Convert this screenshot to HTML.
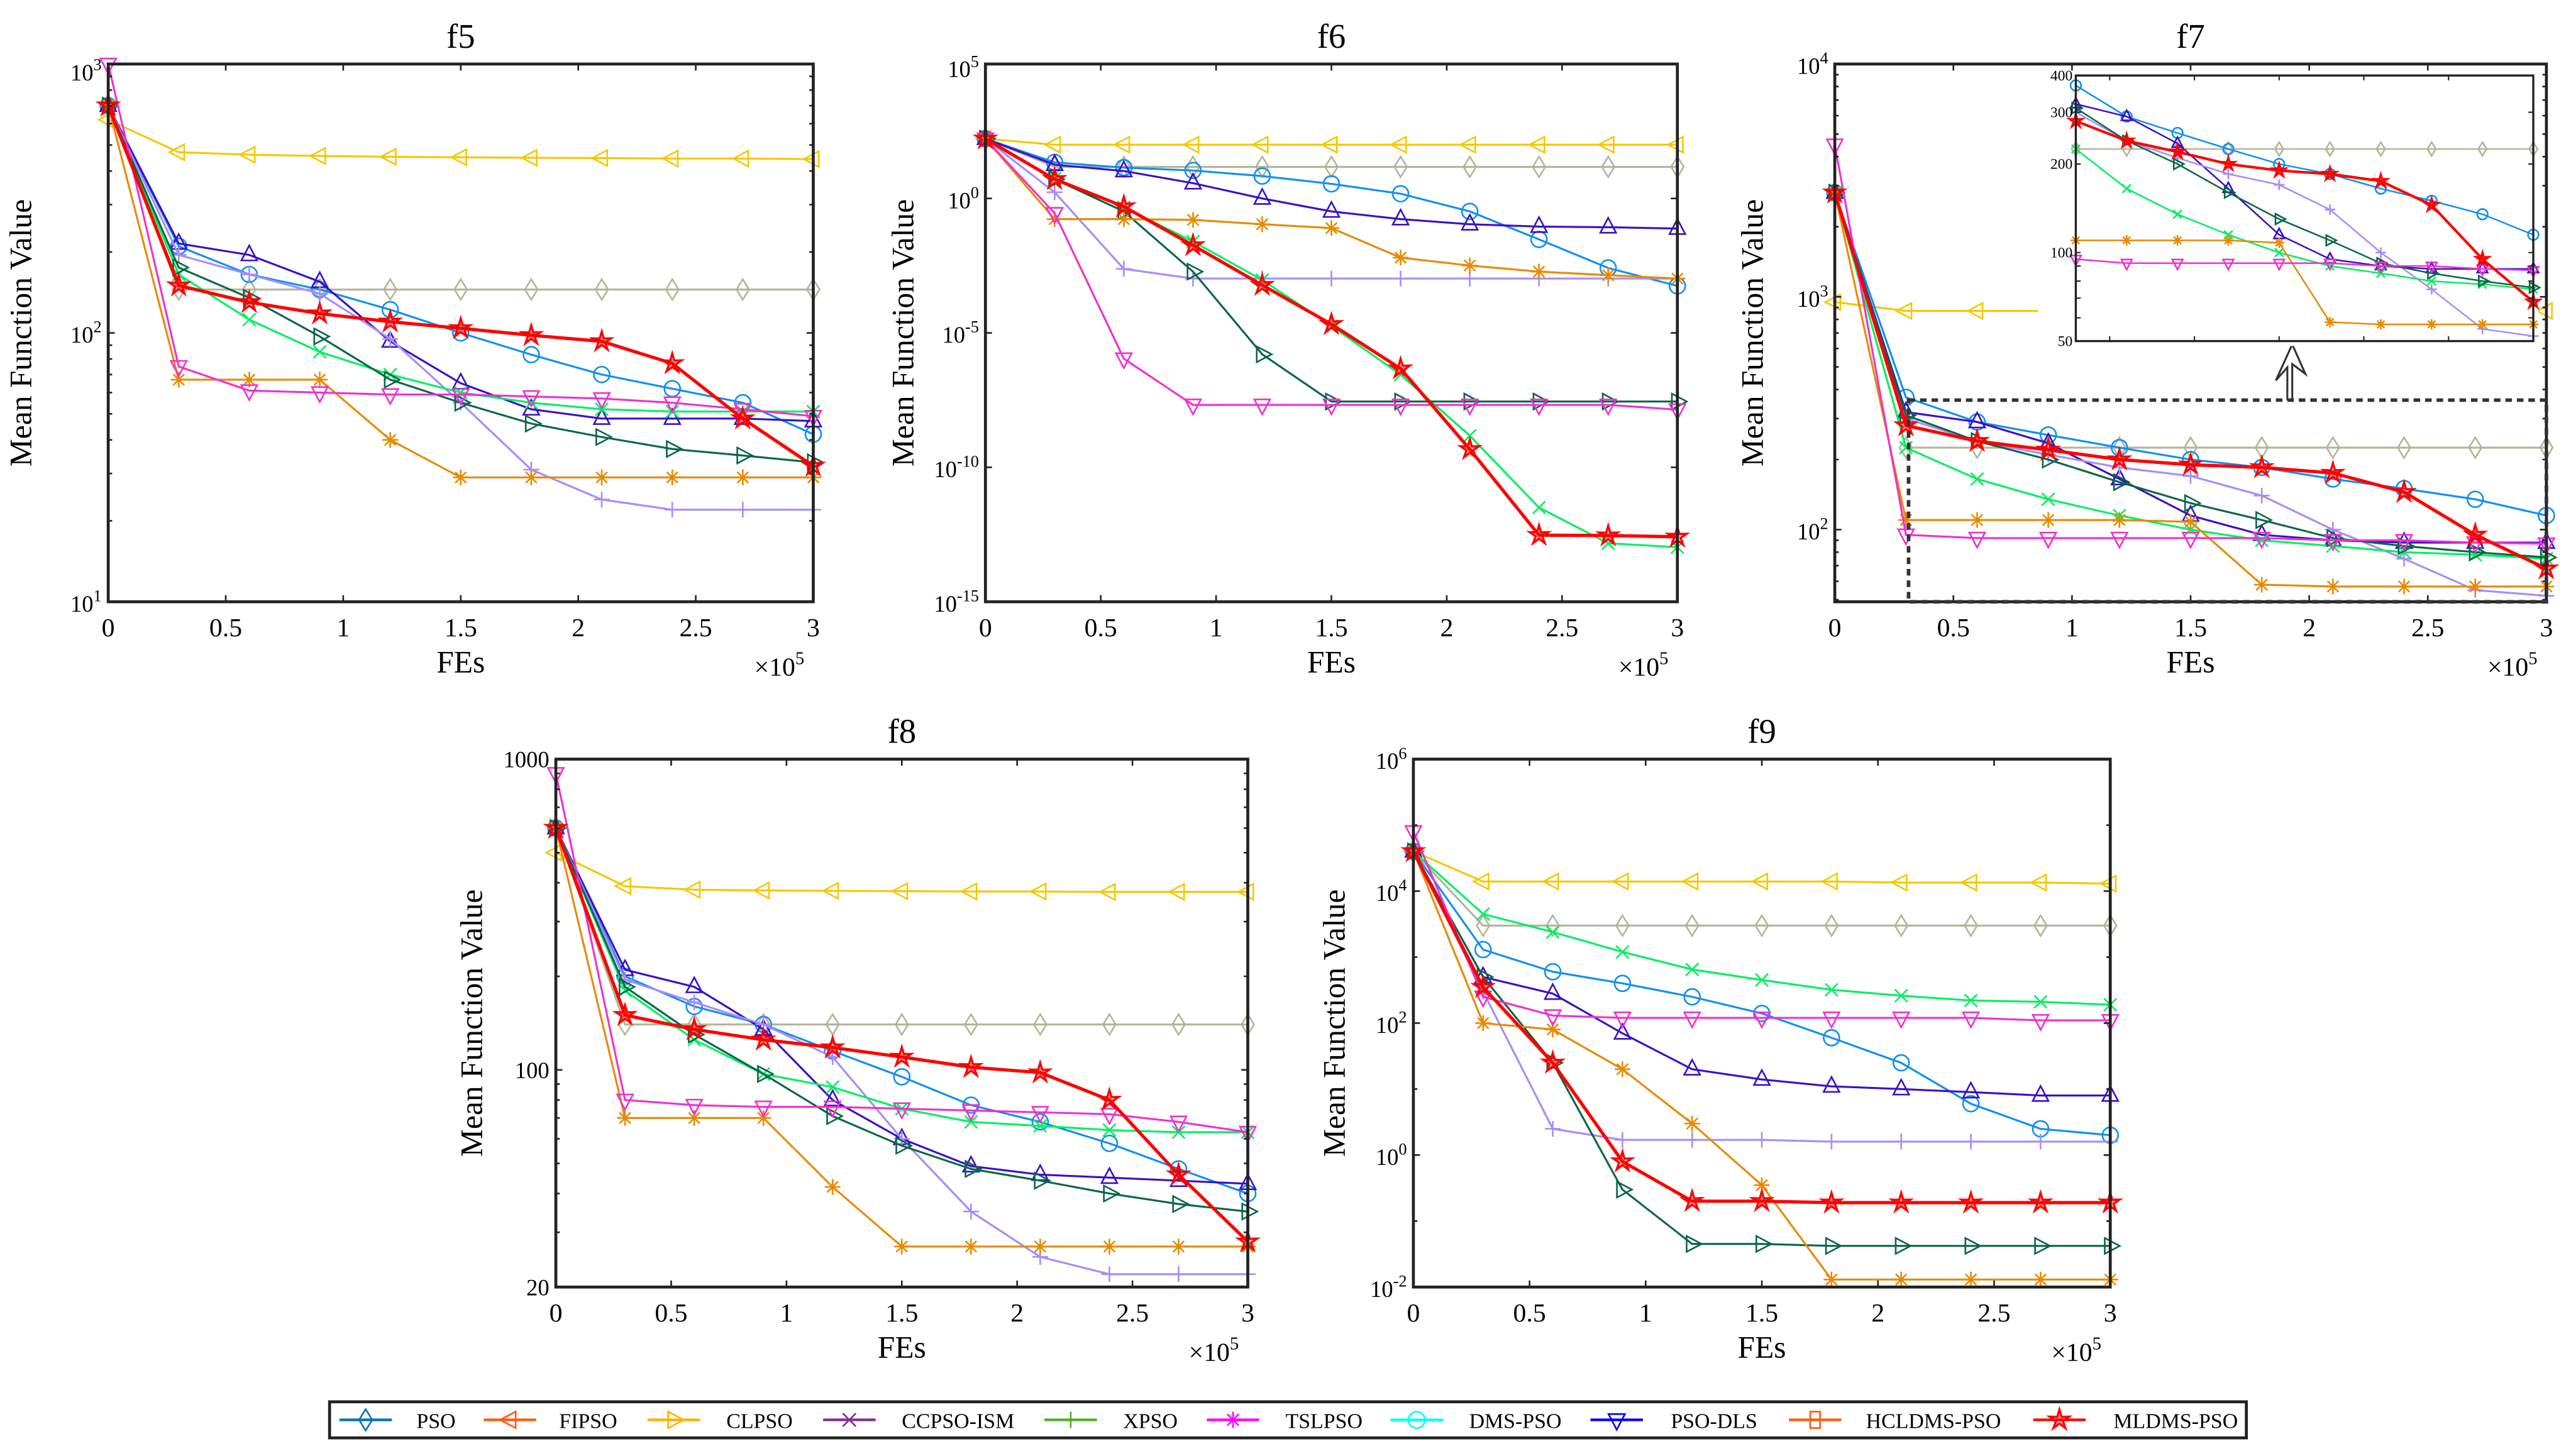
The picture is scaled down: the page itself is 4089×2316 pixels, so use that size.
<!DOCTYPE html>
<html><head><meta charset="utf-8"><style>
html,body{margin:0;padding:0;background:#fff}
svg{display:block}
text{font-family:"Liberation Serif",serif;fill:#000}
</style></head><body>
<svg id="fig" xmlns="http://www.w3.org/2000/svg" width="4089" height="2316" viewBox="0 0 1568 888"></svg>
<script>
const xs = [0,0.3,0.6,0.9,1.2,1.5,1.8,2.1,2.4,2.7,3.0];
const seriesNames = ['yellow','gray','blue','violet','lav','green','dkgreen','orange','magenta','red'];
const f5 = {
 yellow:[620,470,460,455,452,450,448,447,445,445,443],
 gray:[700,145,145,145,145,145,145,145,145,145,145],
 blue:[700,210,165,145,122,100,83,70,62,55,42],
 violet:[700,215,195,155,93,65,52,48,48,48,47],
 lav:[700,195,165,140,95,55,31,24,22,22,22],
 green:[700,165,112,85,70,60,55,52,51,51,51],
 dkgreen:[700,175,135,97,67,55,46,41,37,35,33],
 orange:[700,67,67,67,40,29,29,29,29,29,29],
 magenta:[1000,75,61,60,59,59,58,57,55,52,49],
 red:[700,150,130,118,110,104,98,93,77,48,32]
};
const f6 = {
 yellow:[166,100,100,100,100,100,100,100,100,100,100],
 gray:[166,15,15,15,15,15,15,15,15,15,15],
 blue:[166,22,14,11,6.8,3.5,1.5,0.33,0.03,2.6e-3,5.6e-4],
 violet:[166,18,10.5,3.7,1,0.33,0.17,0.11,0.09,0.085,0.076],
 lav:[166,1.7,2.4e-3,1.05e-3,1.05e-3,1.05e-3,1.05e-3,1.05e-3,1.05e-3,1.05e-3,1.05e-3],
 green:[166,5.5,0.47,0.025,9.3e-4,1.8e-5,2.8e-7,1.5e-9,3.2e-12,1.5e-13,1.07e-13],
 dkgreen:[166,5.2,0.33,1.9e-3,1.6e-6,2.8e-8,2.8e-8,2.8e-8,2.8e-8,2.8e-8,2.8e-8],
 orange:[166,0.17,0.17,0.16,0.11,0.079,6.3e-3,3.2e-3,1.9e-3,1.4e-3,1.05e-3],
 magenta:[166,0.28,1.1e-6,2.1e-8,2.1e-8,2.1e-8,2.1e-8,2.1e-8,2.1e-8,2.1e-8,1.4e-8],
 red:[166,5.2,0.5,0.018,6e-4,2.1e-5,4.7e-7,4.7e-10,3e-13,2.9e-13,2.6e-13]
};
const f7 = {
 yellow:[950,870,870,870,870,870,870,870,870,870,870],
 gray:[2800,225,225,225,225,225,225,225,225,225,225],
 blue:[2800,370,290,255,225,200,185,165,150,135,115],
 violet:[2800,320,290,235,165,115,95,90,88,88,88],
 lav:[2800,300,240,210,185,170,140,100,75,55,52],
 green:[2800,225,165,135,115,100,90,85,80,78,75],
 dkgreen:[2800,310,240,200,160,130,110,92,85,80,76],
 orange:[2800,110,110,110,110,108,58,57,57,57,57],
 magenta:[4500,95,92,92,92,92,92,90,90,88,87],
 red:[2800,280,240,220,200,190,185,175,145,95,68]
};
const f8 = {
 yellow:[500,390,380,378,377,376,375,375,374,374,374],
 gray:[600,140,140,140,140,140,140,140,140,140,140],
 blue:[600,200,160,140,115,95,77,68,58,48,40],
 violet:[600,210,185,135,80,60,49,46,45,44,43],
 lav:[600,195,165,140,110,60,35,25,22,22,22],
 green:[600,180,125,97,88,75,68,66,64,63,63],
 dkgreen:[600,185,130,97,71,57,48,44,40,37,35],
 orange:[600,70,70,70,42,27,27,27,27,27,27],
 magenta:[900,80,77,76,76,75,74,73,72,68,63],
 red:[600,150,135,125,118,110,102,98,80,46,28]
};
const f9 = {
 yellow:[4e4,1.4e4,1.4e4,1.4e4,1.4e4,1.4e4,1.4e4,1.35e4,1.35e4,1.35e4,1.3e4],
 gray:[4e4,3e3,3e3,3e3,3e3,3e3,3e3,3e3,3e3,3e3,3e3],
 blue:[4e4,1.3e3,6e2,4e2,2.5e2,1.4e2,60,25,6,2.5,2],
 violet:[4e4,5e2,2.8e2,70,20,14,11,10,9,8,8],
 lav:[4e4,3e2,2.5,1.7,1.7,1.7,1.6,1.6,1.6,1.6,1.6],
 green:[4e4,4.5e3,2.4e3,1.2e3,6.5e2,4.5e2,3.2e2,2.6e2,2.2e2,2.1e2,1.9e2],
 dkgreen:[4e4,5e2,25,0.3,0.045,0.045,0.042,0.042,0.042,0.042,0.042],
 orange:[4e4,1e2,80,20,3,0.35,0.013,0.013,0.013,0.013,0.013],
 magenta:[8e4,2.5e2,1.3e2,1.2e2,1.2e2,1.2e2,1.2e2,1.2e2,1.2e2,1.1e2,1.1e2],
 red:[4e4,3.5e2,25,0.8,0.2,0.2,0.19,0.19,0.19,0.19,0.19]
};
const legendLabels = ['PSO','FIPSO','CLPSO','CCPSO-ISM','XPSO','TSLPSO','DMS-PSO','PSO-DLS','HCLDMS-PSO','MLDMS-PSO'];
const legendColors = ['#0072BD','#FF5A10','#FFB000','#7E2F8E','#4DAF20','#FF00FF','#00FFFF','#0000FF','#FF5A10','#FF0000'];
const legendMarkers = ['diamond','ltri','rtri','x','plus','star','circle','dtri','square','pent'];

const NS='http://www.w3.org/2000/svg';
const svg=document.getElementById('fig');
function el(tag,attrs,parent){const e=document.createElementNS(NS,tag);for(const k in attrs)e.setAttribute(k,attrs[k]);(parent||svg).appendChild(e);return e;}
const style={
 yellow:{c:'#F5C800',m:'ltri',w:1.2},gray:{c:'#B4B49B',m:'diamond',w:1.2},blue:{c:'#1090F0',m:'circle',w:1.2},
 violet:{c:'#3A10C8',m:'tri',w:1.2},lav:{c:'#A88CFA',m:'plus',w:1.2},green:{c:'#00F060',m:'x',w:1.2},
 dkgreen:{c:'#0A6648',m:'rtri',w:1.2},orange:{c:'#E88A00',m:'star',w:1.2},magenta:{c:'#F030D0',m:'dtri',w:1.2},
 red:{c:'#FF0000',m:'pent',w:2}
};
function marker(g,type,x,y,c,s){
 let d='';const a={fill:'none',stroke:c,'stroke-width':1};
 if(type==='circle'){const e=el('circle',Object.assign({cx:x,cy:y,r:s},a),g);return e;}
 if(type==='diamond')d=`M${x} ${y-s*1.3}L${x+s*0.8} ${y}L${x} ${y+s*1.3}L${x-s*0.8} ${y}Z`;
 if(type==='tri')d=`M${x} ${y-s*1.2}L${x+s} ${y+s*0.7}L${x-s} ${y+s*0.7}Z`;
 if(type==='dtri')d=`M${x} ${y+s*1.2}L${x+s} ${y-s*0.7}L${x-s} ${y-s*0.7}Z`;
 if(type==='ltri')d=`M${x-s*1.2} ${y}L${x+s*0.7} ${y-s}L${x+s*0.7} ${y+s}Z`;
 if(type==='rtri')d=`M${x+s*1.2} ${y}L${x-s*0.7} ${y-s}L${x-s*0.7} ${y+s}Z`;
 if(type==='square')d=`M${x-s*0.6} ${y-s}h${s*1.2}v${s*2}h${-s*1.2}Z`;
 if(type==='plus')d=`M${x-s} ${y}H${x+s}M${x} ${y-s}V${y+s}`;
 if(type==='x')d=`M${x-s*0.8} ${y-s*0.8}L${x+s*0.8} ${y+s*0.8}M${x-s*0.8} ${y+s*0.8}L${x+s*0.8} ${y-s*0.8}`;
 if(type==='star')d=`M${x-s} ${y}H${x+s}M${x} ${y-s}V${y+s}M${x-s*0.7} ${y-s*0.7}L${x+s*0.7} ${y+s*0.7}M${x-s*0.7} ${y+s*0.7}L${x+s*0.7} ${y-s*0.7}`;
 if(type==='pent'){let p=[];for(let i=0;i<10;i++){const r=i%2?s*0.45:s*1.25;const t=-Math.PI/2+i*Math.PI/5;p.push((x+r*Math.cos(t)).toFixed(2)+' '+(y+r*Math.sin(t)).toFixed(2));}d='M'+p.join('L')+'Z';a.fill=c;a['fill-opacity']=0.35;a['stroke-width']=1.3;}
 return el('path',Object.assign({d},a),g);
}
function axes(name,L,R,T,B,xmin,xmax,ymin,ymax){
 const lx=v=>L+(v-xmin)/(xmax-xmin)*(R-L);
 const ly=v=>B-(Math.log10(v)-Math.log10(ymin))/(Math.log10(ymax)-Math.log10(ymin))*(B-T);
 return {name,L,R,T,B,sx:lx,sy:ly};
}
function drawBox(ax,g,opts){
 const tl=opts.tl||4;
 let d='';
 for(const t of opts.xt){const x=ax.sx(t);d+=`M${x} ${ax.B}v${-tl}M${x} ${ax.T}v${tl}`;
  const tx=el('text',{x:x,y:ax.B+opts.xlo,'font-size':opts.fs,'text-anchor':'middle'},g);tx.textContent=String(t);
  
  }
 for(const t of opts.ymin||[]){const y=ax.sy(t);d+=`M${ax.L} ${y}h${tl*0.6}M${ax.R} ${y}h${-tl*0.6}`;}
 for(const t of opts.yt){const y=ax.sy(t);d+=`M${ax.L} ${y}h${tl}M${ax.R} ${y}h${-tl}`;}
 el('path',{d,stroke:'#222','stroke-width':1,fill:'none'},g);
 el('rect',{x:ax.L,y:ax.T,width:ax.R-ax.L,height:ax.B-ax.T,fill:'none',stroke:'#222','stroke-width':opts.bw||1.8},g);
 opts.ylab(g);
}
function sup(g,x,y,base,exp,fs,anchor){
 const t=el('text',{x:x,y:y,'font-size':fs,'text-anchor':anchor||'end'},g);
 
 
 const a=el('tspan',{},t);a.textContent=base;
 const b=el('tspan',{dy:-fs*0.45,'font-size':fs*0.72},t);b.textContent=exp;
}
function drawSeries(ax,g,data,clip,hide){
 for(const k of seriesNames){
  const s=style[k];const vals=data[k];
  const sg=el('g',{},g);
  
  
  let pts=[];
  for(let i=0;i<vals.length;i++)pts.push([ax.sx(xs[i]),ax.sy(vals[i])]);
  const h=hide&&hide[k];
  el('polyline',{points:pts.map(p=>p.join(',')).join(' '),fill:'none',stroke:s.c,'stroke-width':s.w,'clip-path':'url(#'+(h?h.clip:clip)+')'},sg);
  pts.forEach((p,i)=>{
   if(h&&h.skip.includes(i))return;
   const m=marker(sg,s.m,p[0],p[1],s.c,ax.ms||4.8);
   
   });
 }
}
function labels(g,ax,title){
 const t=el('text',{x:(ax.L+ax.R)/2,y:ax.T-10,'font-size':21,'text-anchor':'middle'},g);t.textContent=title;
 
 const xl=el('text',{x:(ax.L+ax.R)/2,y:ax.B+43,'font-size':19,'text-anchor':'middle'},g);xl.textContent='FEs';
 
 const yc=(ax.T+ax.B)/2;
 const yl=el('text',{x:0,y:0,'font-size':19,'text-anchor':'middle',transform:`translate(${ax.L-ax.ylo},${yc}) rotate(-90)`},g);yl.textContent='Mean Function Value';
 
 const m=el('text',{x:ax.R-36,y:ax.B+45,'font-size':16},g);
 
 const a=el('tspan',{},m);a.textContent='×10';const b=el('tspan',{dy:-7,'font-size':11},m);b.textContent='5';
}
const defs=el('defs',{});
function clipFor(id,ax){const c=el('clipPath',{id},defs);el('rect',{x:ax.L,y:ax.T,width:ax.R-ax.L,height:ax.B-ax.T},c);}
function minors(d0,d1){const r=[];for(let d=d0;d<d1;d++)for(let k=2;k<10;k++)r.push(k*Math.pow(10,d));return r;}
const xt=[0,0.5,1,1.5,2,2.5,3];

function plotLog(name,title,L,R,T,B,ymin,ymax,data,yt,ymn,ylabFn,ylo,hide){
 const g=el('g',{});
 
 
 const ax=axes(name,L,R,T,B,0,3,ymin,ymax);ax.ylo=ylo;
 clipFor('clip-'+name,ax);
 el('rect',{x:L,y:T,width:R-L,height:B-T,fill:'#fff'},g);
 drawSeries(ax,g,data,'clip-'+name,hide);
 drawBox(ax,g,{xt,yt,ymin:ymn,fs:16,xlo:21,ylab:gg=>ylabFn(gg,ax)});
 labels(g,ax,title);
 return {ax,g};
}
const TT=39, TB=367;
plotLog('chart-f5','f5',66,496,TT,TB,10,1000,f5,[10,100,1000],minors(1,3),(g,ax)=>{
 sup(g,ax.L-4,ax.sy(1000)+10,'10','3',14);sup(g,ax.L-4,ax.sy(100)+6,'10','2',14);sup(g,ax.L-4,ax.sy(10)+6,'10','1',14);},47);
plotLog('chart-f6','f6',601,1023,TT,TB,1e-15,1e5,f6,[1e-15,1e-10,1e-5,1,1e5],[],(g,ax)=>{
 const ex=['-15','-10','-5','0','5'];[1e-15,1e-10,1e-5,1,1e5].forEach((v,i)=>{
  sup(g,ax.L-4,ax.sy(v)+(v===1e5?8:6),'10',ex[i],14);});},44);
// f7: yellow line hidden behind inset region
{const c=el('clipPath',{id:'clip-f7-yellow'},defs);el('rect',{x:1119,y:TT,width:124,height:TB-TT},c);}
const r7=plotLog('chart-f7','f7',1119,1553,TT,TB,49,1e4,f7,[100,1000,1e4],minors(1,4).filter(v=>v>=49),(g,ax)=>{
 sup(g,ax.L-4,ax.sy(1e4)+6,'10','4',14);sup(g,ax.L-4,ax.sy(1000)+6,'10','3',14);sup(g,ax.L-4,ax.sy(100)+6,'10','2',14);},44,
 {yellow:{clip:'clip-f7-yellow',skip:[3,4,5,6,7,8,9]}});
plotLog('chart-f8','f8',339,761,463,785,20,1000,f8,[20,100,1000],minors(1,3).filter(v=>v>20),(g,ax)=>{
 [[1000,'1000'],[100,'100'],[20,'20']].forEach(([v,s])=>{const t=el('text',{x:ax.L-4,y:ax.sy(v)+5,'font-size':14,'text-anchor':'end'},g);t.textContent=s;
  });},45);
plotLog('chart-f9','f9',862,1287,463,785,1e-2,1e6,f9,[1e-2,1,1e2,1e4,1e6],[1e-1,10,1e3,1e5],(g,ax)=>{
 [['-2',1e-2],['0',1],['2',1e2],['4',1e4],['6',1e6]].forEach(([e,v])=>sup(g,ax.L-4,ax.sy(v)+6,'10',e,14));},42);

// f7 dashed rect, arrow, inset
const g7=r7.g;
const zr=el('rect',{x:1164,y:244,width:389,height:123,fill:'none',stroke:'#333','stroke-width':2.2,'stroke-dasharray':'4,3'},g7);


el('path',{d:'M1395 244V224L1388 232L1398 210L1406 228L1398 222V244',fill:'none',stroke:'#333','stroke-width':1.2},g7);
const ig=el('g',{},g7);


const iax=axes('inset',1266,1545,46,208,0.3,3,50,400);
el('rect',{x:1264,y:44,width:284,height:167,fill:'#fff'},ig);
for(const k of seriesNames){
 if(k==='yellow')continue;
 const s=style[k];const sg=el('g',{},ig);
 
 
 const pts=[];for(let i=1;i<xs.length;i++)pts.push([iax.sx(xs[i]),iax.sy(f7[k][i])]);
 el('polyline',{points:pts.map(p=>p.join(',')).join(' '),fill:'none',stroke:s.c,'stroke-width':s.w*0.8},sg);
 for(const p of pts){const m=marker(sg,s.m,p[0],p[1],s.c,3.2);
  
  }
}
{
 let d='';
 for(let t=0.5;t<=3;t+=0.5){const x=iax.sx(t);d+=`M${x} ${iax.B}v-3M${x} ${iax.T}v3`;}
 for(const v of [60,70,80,90,100,200,300,400]){const y=iax.sy(v);d+=`M${iax.L} ${y}h3M${iax.R} ${y}h-3`;}
 el('path',{d,stroke:'#222','stroke-width':0.8,fill:'none'},ig);
 el('rect',{x:iax.L,y:iax.T,width:iax.R-iax.L,height:iax.B-iax.T,fill:'none',stroke:'#222','stroke-width':1.3},ig);
 for(const v of [50,100,200,300,400]){const t=el('text',{x:iax.L-2,y:iax.sy(v)+3,'font-size':9,'text-anchor':'end'},ig);t.textContent=String(v);
  }
}

// legend
const lg=el('g',{});


el('rect',{x:201,y:855,width:1169,height:22,fill:'#fff',stroke:'#222','stroke-width':1.8},lg);
const lx=[207,295,395,502,637,736,848,970,1091,1240];
const tx=[260,347,449,556,691,790,902,1025,1144,1295];
for(let i=0;i<legendLabels.length;i++){
 const e=el('g',{},lg);
 
 
 el('line',{x1:lx[i],y1:866,x2:lx[i]+32,y2:866,stroke:legendColors[i],'stroke-width':1.6},e);
 marker(e,legendMarkers[i],lx[i]+16,866,legendColors[i],5);
 const t=el('text',{x:tx[i]-6,y:871,'font-size':13},e);t.textContent=legendLabels[i];
}
</script>
</body></html>
